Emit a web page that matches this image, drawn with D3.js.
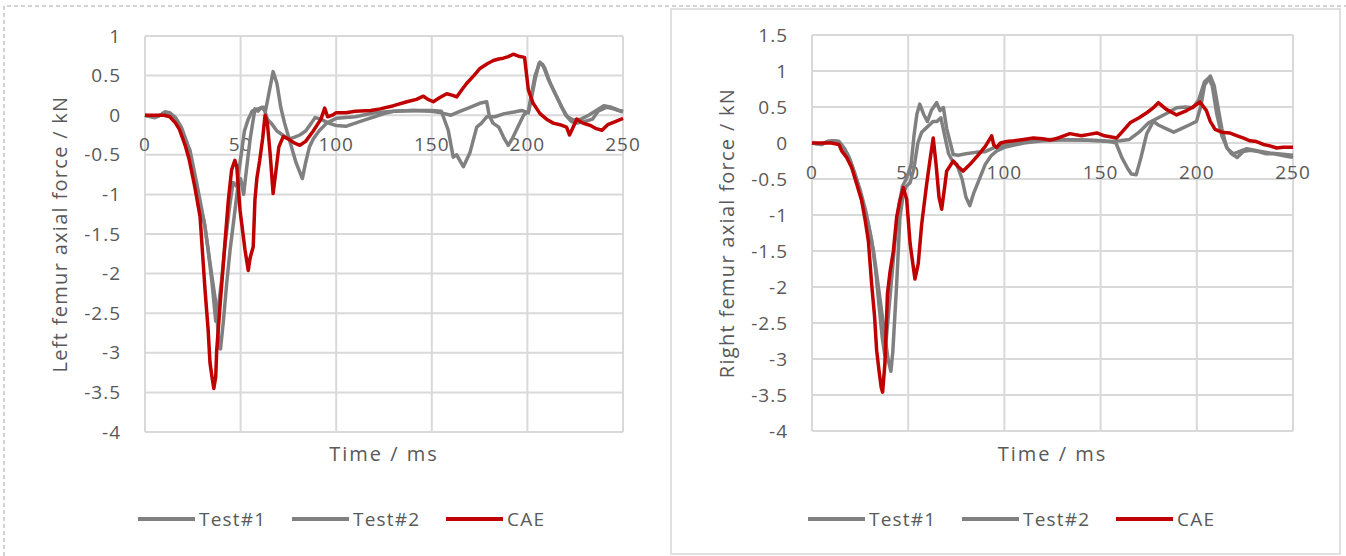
<!DOCTYPE html>
<html>
<head>
<meta charset="utf-8">
<script src="https://cdn.jsdelivr.net/npm/d3@7"></script>
<style>
  body { margin: 0; background: #fff; }
  svg text { font-family: "Open Sans", sans-serif; fill: #595959; }
</style>
</head>
<body>
<svg id="chart" width="1346" height="556"></svg>
<script>
// time (ms) ticks shared by both panels
const timeTicks = [0, 50, 100, 150, 200, 250]
const leftForceTicks = [-4, -3.5, -3, -2.5, -2, -1.5, -1, -0.5, 0, 0.5, 1]
const rightForceTicks = [-4, -3.5, -3, -2.5, -2, -1.5, -1, -0.5, 0, 0.5, 1, 1.5]
const seriesNames = ['Test#1', 'Test#2', 'CAE']
const seriesColors = ['#808080', '#808080', '#c00000']

// left femur, [time, kN]
const leftTest1 = [[0,0],[5,-0.03],[8,0],[10.5,0.04],[13,0.02],[16,-0.05],[19,-0.2],[23.5,-0.44],[27,-0.85],[31.4,-1.41],[34,-1.87],[36,-2.2],[37.5,-2.45],[38.6,-2.94],[39.5,-2.95],[41,-2.6],[42.7,-2.13],[44.5,-1.7],[46.2,-1.37],[48.8,-0.86],[50,-0.8],[51.6,-1.0],[53,-0.7],[55,-0.3],[57.5,0.08],[59,0.05],[61,0.1],[63,0.05],[65,0.3],[67,0.55],[69,0.4],[71,0.1],[73,-0.1],[76,-0.35],[79,-0.6],[82.3,-0.8],[84,-0.6],[86,-0.4],[88,-0.3],[91,-0.2],[95,-0.1],[100,-0.04],[110,-0.02],[120,0.03],[130,0.05],[140,0.06],[150,0.06],[155,0.05],[158.6,-0.19],[161.2,-0.53],[163,-0.5],[166.5,-0.65],[170,-0.47],[173.5,-0.15],[176,-0.1],[178.7,-0.02],[183,-0.02],[188,0.02],[193,0.04],[197,0.06],[200.5,0.03],[202,0.2],[204,0.45],[206,0.65],[208,0.64],[211,0.45],[214,0.3],[217,0.15],[220,0],[223,-0.08],[226,-0.1],[230,-0.08],[234,-0.05],[237,0.05],[241.5,0.1],[245,0.08],[250,0.04]]
const leftTest2 = [[0,0],[5,-0.03],[8,0],[10.5,0.04],[13,0.03],[16,-0.03],[19,-0.15],[22,-0.35],[25,-0.7],[28,-1.05],[31,-1.35],[33,-1.7],[35,-2.1],[37,-2.6],[38,-2.5],[40,-2.1],[42,-1.6],[44,-1.2],[46,-0.85],[48,-0.9],[50,-0.55],[52,-0.2],[54,-0.05],[56,0.05],[59,0.08],[62,0.1],[64,-0.05],[66,-0.1],[69,-0.2],[72,-0.25],[75,-0.3],[78,-0.28],[81,-0.25],[84,-0.2],[87,-0.1],[89,-0.03],[92,-0.05],[96,-0.1],[100,-0.13],[105,-0.14],[110,-0.1],[115,-0.06],[120,-0.02],[125,0.02],[130,0.05],[140,0.06],[150,0.05],[155,0.03],[160,0],[165,0.05],[170,0.1],[175,0.15],[178.7,0.17],[180,0],[182,-0.1],[185,-0.15],[188,-0.3],[190,-0.38],[192,-0.3],[195,-0.15],[198,0],[200.5,0.05],[202,0.25],[204,0.5],[206.6,0.67],[209,0.6],[212,0.4],[215,0.25],[218,0.1],[221,-0.02],[224,-0.06],[228,-0.05],[232,0],[236,0.06],[240,0.12],[244,0.1],[248,0.06],[250,0.05]]
const leftCAE = [[0,0],[10,0],[13,-0.02],[16,-0.1],[18,-0.18],[21,-0.38],[23,-0.55],[26,-0.9],[28.8,-1.28],[31.4,-2.21],[33,-2.7],[34,-3.13],[35,-3.3],[36,-3.45],[37,-3.3],[37.5,-2.97],[39.2,-2.42],[41.8,-1.62],[43.6,-1.07],[45.3,-0.69],[47,-0.57],[48,-0.65],[49.7,-1.2],[52.3,-1.7],[54,-1.96],[55,-1.8],[56.6,-1.66],[57.5,-1.07],[58.5,-0.8],[60,-0.57],[61.5,-0.3],[62.8,0],[64,-0.1],[65.5,-0.5],[67,-0.99],[68.5,-0.7],[70,-0.4],[72.3,-0.27],[75,-0.3],[78,-0.35],[81,-0.38],[84,-0.33],[88,-0.2],[92,-0.05],[94,0.09],[95.5,-0.02],[98,0],[100,0.03],[105,0.03],[110,0.05],[118,0.06],[123,0.08],[130,0.12],[137,0.17],[142,0.2],[145.6,0.24],[148,0.2],[150.8,0.17],[154,0.22],[157.8,0.27],[161,0.25],[163,0.23],[166,0.33],[168.2,0.4],[172,0.5],[175.2,0.59],[179,0.65],[182.2,0.69],[185,0.71],[187.4,0.72],[190,0.74],[192.6,0.77],[196,0.74],[198.5,0.73],[200.5,0.32],[203,0.15],[206.6,0.02],[210,-0.05],[213.5,-0.1],[217,-0.12],[220.5,-0.15],[222,-0.25],[223,-0.2],[225.8,-0.05],[229,-0.1],[233,-0.13],[236,-0.17],[239,-0.19],[242,-0.12],[246,-0.08],[250,-0.04]]

// right femur, [time, kN]
const rightTest1 = [[0,0],[5,-0.02],[8,0.02],[11,0.03],[14,0.02],[16,-0.05],[19,-0.18],[22,-0.4],[25,-0.65],[28,-0.95],[31,-1.35],[33,-1.75],[35,-2.3],[36.5,-2.7],[37.8,-2.94],[39,-2.6],[41,-2],[43,-1.4],[45,-0.9],[47,-0.6],[49,-0.5],[51.5,-0.3],[53,0.1],[54.5,0.4],[56,0.54],[58,0.4],[60,0.3],[62,0.45],[64.8,0.56],[66.5,0.45],[68.3,0.49],[70,0.2],[73.4,-0.16],[76,-0.17],[80,-0.15],[85,-0.13],[90,-0.12],[95,-0.06],[100,-0.03],[110,0.02],[120,0.05],[130,0.05],[140,0.04],[150,0.03],[155,0.02],[158,0],[161,-0.2],[164,-0.35],[166,-0.43],[168.5,-0.44],[171,-0.2],[174,0.13],[177.4,0.3],[180,0.25],[184,0.2],[188,0.15],[192,0.2],[196,0.25],[199.8,0.3],[202,0.5],[204,0.8],[207,0.93],[209,0.8],[211,0.5],[213,0.2],[215.5,-0.06],[218,-0.15],[221,-0.2],[224,-0.12],[227.7,-0.1],[232,-0.12],[236,-0.15],[240,-0.15],[244,-0.17],[248,-0.19],[250,-0.2]]
const rightTest2 = [[0,0],[5,-0.02],[8,0.02],[11,0.03],[14,0.02],[17,-0.08],[20,-0.25],[23,-0.5],[26,-0.8],[29,-1.1],[32,-1.5],[34,-1.9],[36,-2.3],[38,-2.7],[39.5,-3],[41,-3.17],[42,-2.9],[44,-1.96],[45.7,-1.03],[47.5,-0.7],[49,-0.6],[51,-0.55],[53,-0.35],[55,0],[57,0.15],[59,0.2],[61,0.25],[63,0.3],[65,0.3],[67,0.35],[69,0.1],[71,-0.15],[73,-0.25],[75.3,-0.3],[78,-0.5],[80,-0.75],[82,-0.87],[84,-0.7],[87.3,-0.48],[90,-0.3],[93,-0.18],[96,-0.11],[100,-0.06],[110,0],[120,0.03],[130,0.04],[140,0.04],[150,0.03],[155,0.02],[160,0.03],[165,0.05],[170,0.15],[175,0.28],[180,0.35],[185,0.42],[189.5,0.49],[194,0.5],[198,0.49],[201,0.6],[204,0.85],[206,0.9],[208,0.8],[210.4,0.4],[213,0.1],[216,-0.08],[219,-0.15],[222,-0.12],[226,-0.08],[230,-0.1],[234,-0.12],[238,-0.14],[242,-0.15],[246,-0.16],[250,-0.17]]
const rightCAE = [[0,0],[10,0],[14,-0.02],[15.4,-0.11],[18,-0.2],[20.6,-0.34],[23,-0.55],[25.8,-0.8],[27.5,-1.05],[29.3,-1.36],[31,-1.96],[32.5,-2.4],[33.6,-2.88],[35,-3.2],[36,-3.4],[36.7,-3.46],[37.9,-3.06],[39.2,-2.1],[40.5,-1.8],[42.3,-1.5],[44,-1.03],[45.7,-0.8],[47.5,-0.62],[49.2,-0.78],[51,-1.4],[53.5,-1.89],[55.2,-1.68],[57,-1.13],[59.6,-0.57],[61,-0.3],[63,0.07],[64.5,-0.3],[66,-0.75],[67.4,-0.92],[69,-0.6],[70,-0.39],[73.4,-0.25],[76,-0.33],[78.6,-0.39],[82,-0.3],[86,-0.18],[90,-0.05],[93.4,0.1],[94.5,-0.03],[96,-0.06],[98,0],[101.2,0.02],[105,0.03],[110,0.05],[115,0.07],[120,0.06],[123.7,0.04],[128,0.07],[134,0.13],[140,0.1],[144,0.12],[148,0.14],[152,0.1],[158.4,0.07],[162,0.18],[165.3,0.28],[170,0.35],[174,0.42],[177,0.48],[180,0.56],[184,0.47],[189.5,0.39],[194.7,0.45],[198,0.5],[201.7,0.57],[205,0.45],[207,0.3],[209.5,0.19],[213,0.15],[217,0.14],[221,0.1],[224,0.07],[227.7,0.03],[231,0.02],[234.6,-0.02],[238,-0.04],[241.5,-0.07],[245,-0.06],[250,-0.06]]

const svg = d3.select('#chart')

// panel frames: dashed outer edge, light solid box round the right chart
svg.append('path')
  .attr('d', 'M4,556 V6 H1346')
  .attr('fill', 'none')
  .attr('stroke', '#a6a6a6')
  .attr('stroke-width', 1)
  .attr('stroke-dasharray', '4,3')
svg.append('rect')
  .attr('x', 671).attr('y', 9)
  .attr('width', 669).attr('height', 545)
  .attr('fill', 'none')
  .attr('stroke', '#e0e0e0')
  .attr('stroke-width', 2)

const drawPanel = (cfg) => {
  const { left, right, top, bottom, yTicks, series, yTitle, legendX, legendStep } = cfg
  const x = d3.scaleLinear().domain([0, 250]).range([left, right])
  const y = d3.scaleLinear().domain(d3.extent(yTicks)).range([bottom, top])
  const g = svg.append('g')

  // grid
  g.selectAll('line.hgrid').data(yTicks).enter()
    .append('line')
    .attr('class', 'hgrid')
    .attr('x1', left).attr('x2', right)
    .attr('y1', d => y(d)).attr('y2', d => y(d))
    .attr('stroke', '#d9d9d9').attr('stroke-width', 2)
  g.selectAll('line.vgrid').data(timeTicks).enter()
    .append('line')
    .attr('class', 'vgrid')
    .attr('y1', top).attr('y2', bottom)
    .attr('x1', d => x(d)).attr('x2', d => x(d))
    .attr('stroke', '#d9d9d9').attr('stroke-width', 2)

  // y tick labels
  g.selectAll('text.ytick').data(yTicks).enter()
    .append('text')
    .attr('class', 'ytick')
    .attr('x', left - 24)
    .attr('y', d => y(d))
    .attr('dy', '0.35em')
    .attr('text-anchor', 'end')
    .style('font-size', '19px')
    .style('letter-spacing', '1px')
    .text(d => d)

  // x tick labels sit just under the zero line
  g.selectAll('text.xtick').data(timeTicks).enter()
    .append('text')
    .attr('class', 'xtick')
    .attr('x', d => x(d))
    .attr('y', y(0) + 29)
    .attr('dy', '0.35em')
    .attr('text-anchor', 'middle')
    .style('font-size', '19px')
    .style('letter-spacing', '1px')
    .text(d => d)

  const line = d3.line().x(d => x(d[0])).y(d => y(d[1]))
  g.selectAll('path.series').data(series).enter()
    .append('path')
    .attr('class', 'series')
    .attr('d', d => line(d))
    .attr('fill', 'none')
    .attr('stroke', (d, i) => seriesColors[i])
    .attr('stroke-width', 3.5)
    .attr('stroke-linejoin', 'round')

  // axis titles
  g.append('text')
    .attr('transform', `translate(${left - 85},${(top + bottom) / 2}) rotate(-90)`)
    .attr('text-anchor', 'middle')
    .attr('dy', '0.35em')
    .style('font-size', '20px')
    .style('letter-spacing', '1.3px')
    .text(yTitle)
  g.append('text')
    .attr('x', (left + right) / 2)
    .attr('y', 461)
    .attr('text-anchor', 'middle')
    .style('font-size', '20px')
    .style('letter-spacing', '2px')
    .text('Time / ms')

  // legend
  const lg = g.selectAll('g.legend').data(seriesNames).enter()
    .append('g')
    .attr('class', 'legend')
    .attr('transform', (d, i) => `translate(${legendX + i * legendStep},519)`)
  lg.append('line')
    .attr('x1', 0).attr('x2', 57)
    .attr('stroke', (d, i) => seriesColors[i])
    .attr('stroke-width', 4)
  lg.append('text')
    .attr('x', 61)
    .attr('dy', '0.35em')
    .style('font-size', '19px')
    .style('letter-spacing', '1.2px')
    .text(d => d)
}

drawPanel({
  left: 145, right: 623, top: 36, bottom: 432,
  yTicks: leftForceTicks,
  series: [leftTest1, leftTest2, leftCAE],
  yTitle: 'Left  femur  axial force / kN',
  legendX: 138, legendStep: 154
})

drawPanel({
  left: 812, right: 1293, top: 35, bottom: 431,
  yTicks: rightForceTicks,
  series: [rightTest1, rightTest2, rightCAE],
  yTitle: 'Right femur  axial force / kN',
  legendX: 808, legendStep: 154
})
</script>
</body>
</html>
